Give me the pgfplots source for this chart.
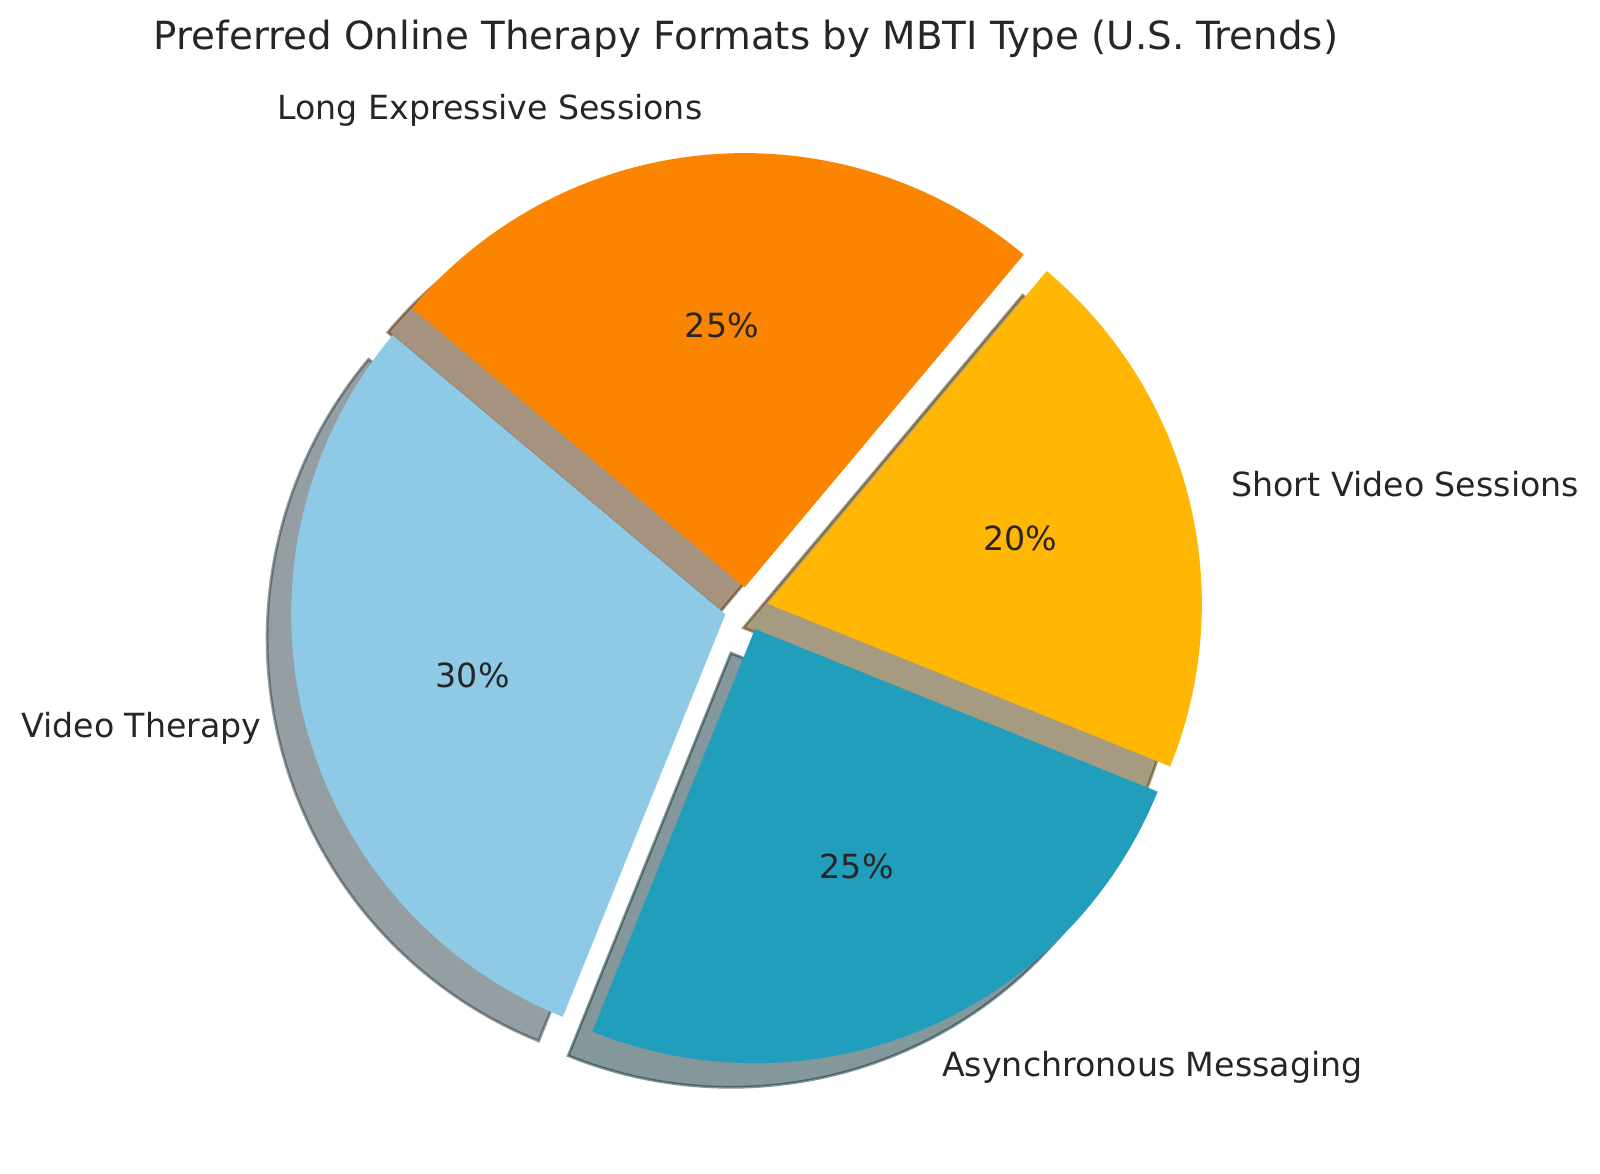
\documentclass[border=0pt]{standalone}
\usepackage{pgfplots}
\pgfplotsset{compat=1.18}
\usepackage{fontspec}
\setmainfont{DejaVu Sans}
\definecolor{txt}{HTML}{262626}
\definecolor{cA}{HTML}{8ECAE6}
\definecolor{cB}{HTML}{219EBC}
\definecolor{cC}{HTML}{FFB703}
\definecolor{cD}{HTML}{FB8500}
\definecolor{sA}{RGB}{43,61,69}
\definecolor{sB}{RGB}{10,47,56}
\definecolor{sC}{RGB}{77,55,1}
\definecolor{sD}{RGB}{75,40,0}
% pie geometry (axis units = pixels)
\def\cx{746.5}\def\cy{565}\def\R{434}\def\Rlen{4.34cm}
\def\expl{0.05}\def\shoff{24.1}\def\startang{140}
\newcommand\lblfont{\fontsize{9.45}{11}\selectfont}
\begin{document}
\begin{tikzpicture}
\begin{axis}[x=0.01cm, y=0.01cm, xmin=0, xmax=1600, ymin=0, ymax=1174,
  enlargelimits=false, hide axis, clip=false, scale only axis]
\addplot[draw=none] coordinates {(0,0) (1600,1174)};
\pgfplotsextra{
  \path (axis cs:0,0) rectangle (axis cs:1600,1174);
  % shadows
  \xdef\curang{\startang}
  \foreach \val/\fc/\sc in {30/cA/sA, 25/cB/sB, 20/cC/sC, 25/cD/sD}{
    \pgfmathsetmacro\se{\curang+3.6*\val}
    \pgfmathsetmacro\sm{\curang+1.8*\val}
    \pgfmathsetmacro\ox{\cx+\expl*\R*cos(\sm)-\shoff}
    \pgfmathsetmacro\oy{\cy+\expl*\R*sin(\sm)-\shoff}
    \filldraw[fill=\sc, draw=\sc, fill opacity=0.5, draw opacity=0.5, line width=0.79pt, line join=miter]
      (axis cs:\ox,\oy) -- ++(\curang:\Rlen) arc[start angle=\curang, end angle=\se, radius=\Rlen] -- cycle;
    \xdef\curang{\se}
  }
  % wedges
  \xdef\curang{\startang}
  \foreach \val/\fc/\sc in {30/cA/sA, 25/cB/sB, 20/cC/sC, 25/cD/sD}{
    \pgfmathsetmacro\se{\curang+3.6*\val}
    \pgfmathsetmacro\sm{\curang+1.8*\val}
    \pgfmathsetmacro\ox{\cx+\expl*\R*cos(\sm)}
    \pgfmathsetmacro\oy{\cy+\expl*\R*sin(\sm)}
    \fill[\fc] (axis cs:\ox,\oy) -- ++(\curang:\Rlen) arc[start angle=\curang, end angle=\se, radius=\Rlen] -- cycle;
    \xdef\curang{\se}
  }
  % labels and percentages
  \xdef\curang{\startang}
  \foreach \val/\lab in {30/Video Therapy, 25/Asynchronous Messaging, 20/Short Video Sessions, 25/Long Expressive Sessions}{
    \pgfmathsetmacro\se{\curang+3.6*\val}
    \pgfmathsetmacro\sm{\curang+1.8*\val}
    \pgfmathsetmacro\ox{\cx+\expl*\R*cos(\sm)}
    \pgfmathsetmacro\oy{\cy+\expl*\R*sin(\sm)}
    \pgfmathsetmacro\lx{\ox+1.1*\R*cos(\sm)}
    \pgfmathsetmacro\ly{\oy+1.1*\R*sin(\sm)-8}
    \pgfmathsetmacro\px{\ox+0.6*\R*cos(\sm)}
    \pgfmathsetmacro\py{\oy+0.6*\R*sin(\sm)-10}
    \pgfmathsetmacro\anc{cos(\sm)>0 ? 1 : 0}
    \ifdim\anc pt>0.5pt
      \node[anchor=base west, inner sep=0pt, text=txt, font=\lblfont] at (axis cs:\lx,\ly) {\lab};
    \else
      \node[anchor=base east, inner sep=0pt, text=txt, font=\lblfont] at (axis cs:\lx,\ly) {\lab};
    \fi
    \node[anchor=base, inner sep=0pt, text=txt, font=\lblfont] at (axis cs:\px,\py) {\val\%};
    \xdef\curang{\se}
  }
  \node[anchor=base, inner sep=0pt, text=txt, font=\fontsize{11.03}{13}\selectfont] at (axis cs:746,1124.5)
    {Preferred Online Therapy Formats by MBTI Type (U.S. Trends)};
}
\end{axis}
\end{tikzpicture}
\end{document}
